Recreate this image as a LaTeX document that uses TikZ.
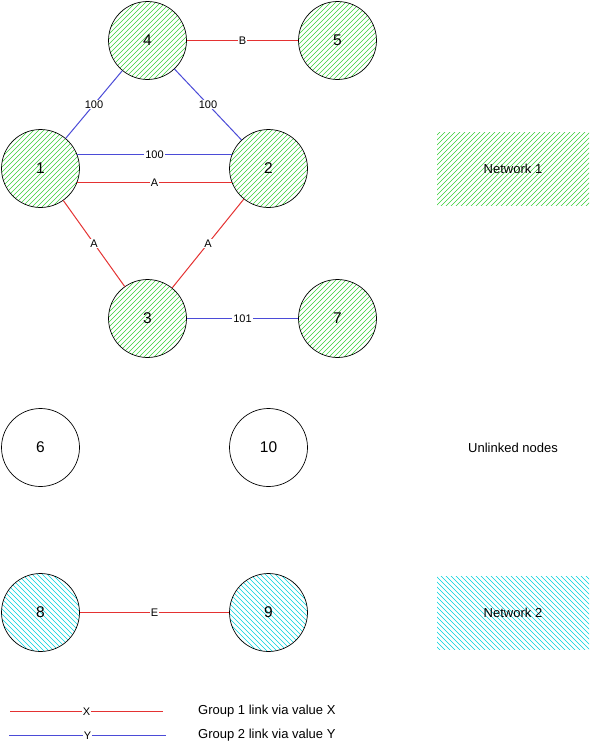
\documentclass[tikz,border=0pt]{standalone}
\usepackage{fontspec}
\setmainfont{Liberation Sans}
\definecolor{linkred}{RGB}{228,50,50}
\definecolor{linkblue}{RGB}{75,75,215}
\definecolor{hatchgreen}{RGB}{55,208,55}
\definecolor{hatchcyan}{RGB}{0,210,220}
\newcommand{\numsz}{\fontsize{15.5}{18}\selectfont}
\newcommand{\valsz}{\fontsize{11}{13}\selectfont}
\newcommand{\txtsz}{\fontsize{13}{15}\selectfont}

\begin{document}
\begin{tikzpicture}[x=1pt,y=-1pt,
  peer/.style={circle,draw,line width=0.7pt,minimum size=78pt,inner sep=0pt,font=\numsz},
  hatch/.style 2 args={path picture={
    \foreach \k in {-120,-115,...,120}
      \draw[#1,line width=0.5pt]
        ([shift={(\k-80,80*#2)}]path picture bounding box.center) --
        ([shift={(\k+80,-80*#2)}]path picture bounding box.center);}},
  netone/.style={hatch={hatchgreen}{1}},
  nettwo/.style={hatch={hatchcyan}{-1}},
  keybox/.style={minimum width=152pt,minimum height=73pt,inner sep=0pt,font=\txtsz},
  xlink/.style={draw=linkred,line width=1pt},
  ylink/.style={draw=linkblue,line width=1pt},
  val/.style={fill=white,inner sep=1pt,font=\valsz}]
  \useasboundingbox (0,0) rectangle (589,744);
  % network 1
  \node[peer,netone] (n4) at (147.5,40.5) {4};
  \node[peer,netone] (n5) at (337.5,40.5) {5};
  \node[peer,netone] (n1) at (40.5,168.5) {1};
  \node[peer,netone] (n2) at (268.5,168.5) {2};
  \node[peer,netone] (n3) at (147.5,318.5) {3};
  \node[peer,netone] (n7) at (337.5,318.5) {7};
  % unlinked
  \node[peer] (n6) at (40.5,447.5) {6};
  \node[peer] (n10) at (268.5,447.5) {10};
  % network 2
  \node[peer,nettwo] (n8) at (40.5,612.5) {8};
  \node[peer,nettwo] (n9) at (268.5,612.5) {9};
  % links
  \draw[xlink] (n4) -- node[val] {B} (n5);
  \draw[ylink] (n1) -- node[val] {100} (n4);
  \draw[ylink] (n4) -- node[val] {100} (n2);
  \draw[ylink] (n1.21) -- node[val] {100} (n2.159);
  \draw[xlink] (n1.-21) -- node[val] {A} (n2.-159);
  \draw[xlink] (n1) -- node[val] {A} (n3);
  \draw[xlink] (n2) -- node[val] {A} (n3);
  \draw[ylink] (n3) -- node[val] {101} (n7);
  \draw[xlink] (n8) -- node[val] {E} (n9);
  % key
  \coordinate (kxa) at (10,711.5);
  \coordinate (kxb) at (163,711.5);
  \coordinate (kya) at (9,735.5);
  \coordinate (kyb) at (166,735.5);
  \draw[xlink] (kxa) -- node[val] {X} (kxb);
  \draw[ylink] (kya) -- node[val] {Y} (kyb);
  \node[font=\txtsz,anchor=west,inner sep=0pt] (gx) at (198,711.5) {Group 1 link via value X};
  \node[font=\txtsz,anchor=west,inner sep=0pt] (gy) at (198,735.5) {Group 2 link via value Y};
  \node[font=\txtsz] (lone) at (513,448) {Unlinked nodes};
  \node[keybox,netone] (net1) at (513,169) {Network 1};
  \node[keybox,nettwo] (net2) at (513,613) {Network 2};
\end{tikzpicture}
\end{document}
